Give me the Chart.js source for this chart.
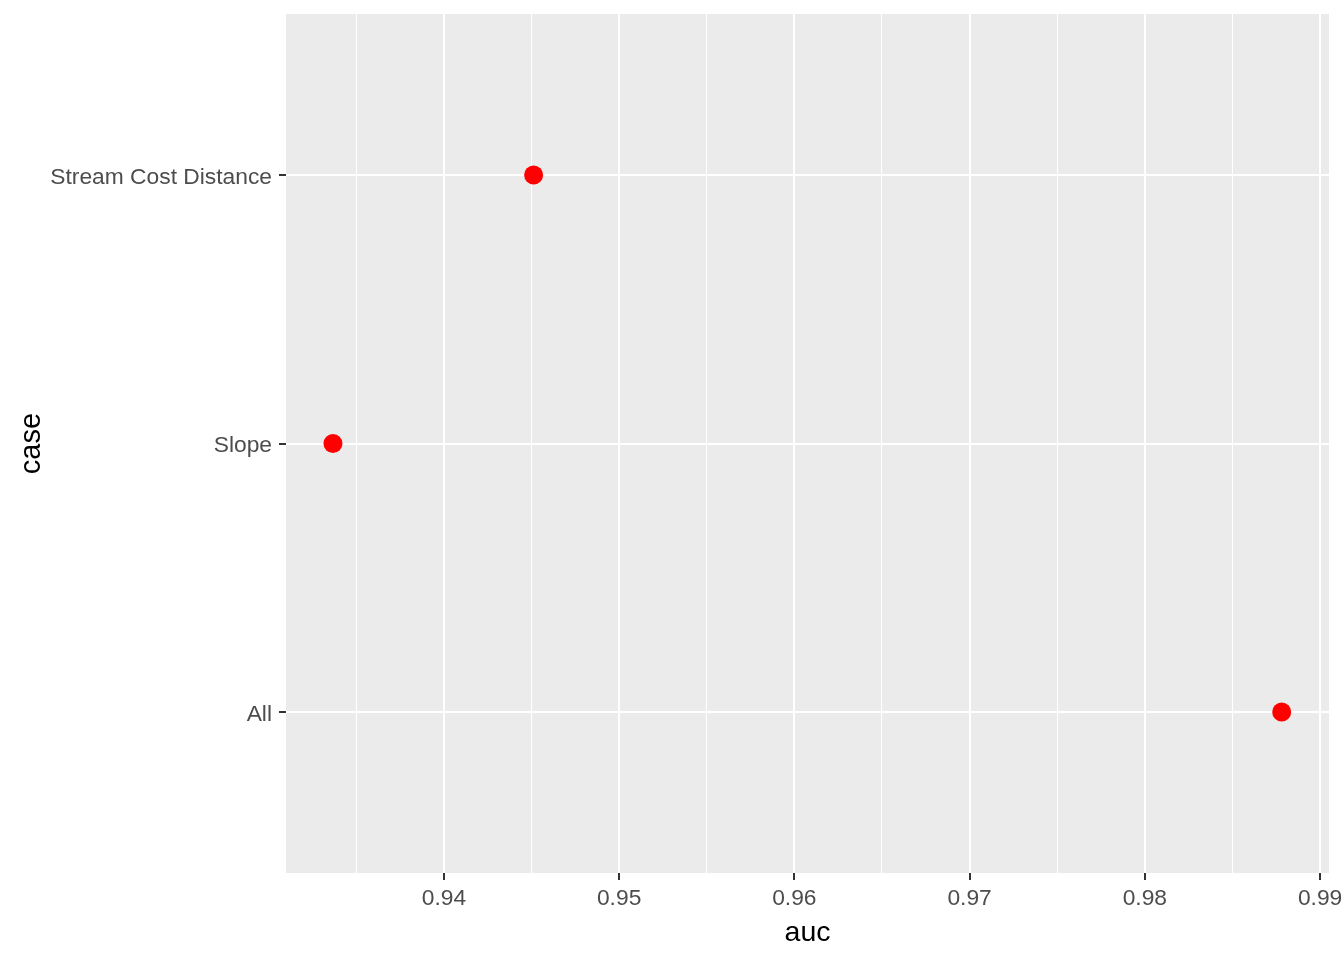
<!DOCTYPE html>
<html>
<head>
<meta charset="utf-8">
<title>auc by case</title>
<script src="https://cdn.jsdelivr.net/npm/chart.js@4.4.1/dist/chart.umd.min.js"></script>
<style>
    html, body { margin: 0; padding: 0; background: #ffffff; }
    #wrap { width: 1344px; height: 960px; }
</style>
</head>
<body>
<div id="wrap"><canvas id="chart" width="1344" height="960"></canvas></div>
<script>
// categories, bottom to top like ggplot draws them
const cases = ['All', 'Slope', 'Stream Cost Distance'];
const aucValues = [0.98781, 0.93367, 0.94512];

const xMajorTicks = [0.94, 0.95, 0.96, 0.97, 0.98, 0.99];
const xMinorTicks = [0.935, 0.945, 0.955, 0.965, 0.975, 0.985];
const xMin = 0.93099, xMax = 0.99051;

const fontFamily = '"Liberation Sans", Arial, sans-serif';

function isMajor(v) {
    return xMajorTicks.some(function (m) { return Math.abs(m - v) < 1e-6; });
}

// grey ggplot panel behind the grid
const panelBg = {
    id: 'panelBg',
    beforeDraw: function (chart) {
        const a = chart.chartArea, ctx = chart.ctx;
        ctx.save();
        ctx.fillStyle = '#EBEBEB';
        ctx.fillRect(a.left, a.top, a.right - a.left, a.bottom - a.top);
        ctx.restore();
    }
};

const points = aucValues.map(function (v, i) { return { x: v, y: i }; });

new Chart(document.getElementById('chart'), {
    type: 'scatter',
    data: {
        datasets: [{
            data: points,
            backgroundColor: '#FF0000',
            borderWidth: 0,
            pointRadius: 9.5,
            pointHoverRadius: 9.5
        }]
    },
    options: {
        responsive: false,
        animation: false,
        layout: { padding: { top: 14, right: 15, left: 0, bottom: 0 } },
        plugins: { legend: { display: false }, tooltip: { enabled: false } },
        scales: {
            x: {
                type: 'linear',
                min: xMin,
                max: xMax,
                afterBuildTicks: function (scale) {
                    scale.ticks = xMinorTicks.concat(xMajorTicks)
                        .sort(function (a, b) { return a - b; })
                        .map(function (v) { return { value: v }; });
                },
                afterFit: function (scale) {
                    scale.height = 87;
                    scale.paddingLeft = 0;
                    scale.paddingRight = 0;
                },
                border: { display: false },
                grid: {
                    color: '#FFFFFF',
                    lineWidth: function (c) { return isMajor(c.tick.value) ? 2 : 1; },
                    tickColor: function (c) { return isMajor(c.tick.value) ? '#333333' : 'rgba(0,0,0,0)'; },
                    tickWidth: 2,
                    tickLength: 7
                },
                ticks: {
                    autoSkip: false,
                    maxRotation: 0,
                    padding: 5,
                    color: '#4D4D4D',
                    font: { family: fontFamily, size: 22.8 },
                    callback: function (v) { return isMajor(v) ? v.toFixed(2) : ''; }
                },
                title: {
                    display: true,
                    text: 'auc',
                    color: '#000000',
                    font: { family: fontFamily, size: 28.5 },
                    padding: { top: 0, bottom: 10 }
                }
            },
            y: {
                type: 'linear',
                min: -0.6,
                max: cases.length - 1 + 0.6,
                afterBuildTicks: function (scale) {
                    scale.ticks = cases.map(function (c, i) { return { value: i }; });
                },
                afterFit: function (scale) {
                    scale.width = 286;
                    scale.paddingTop = 0;
                    scale.paddingBottom = 0;
                },
                border: { display: false },
                grid: {
                    color: '#FFFFFF',
                    lineWidth: 2,
                    tickColor: '#333333',
                    tickWidth: 2,
                    tickLength: 7
                },
                ticks: {
                    autoSkip: false,
                    padding: 7,
                    labelOffset: 2.5,
                    color: '#4D4D4D',
                    font: { family: fontFamily, size: 22.8 },
                    callback: function (v) { return cases[v] !== undefined ? cases[v] : ''; }
                },
                title: {
                    display: true,
                    text: 'case',
                    color: '#000000',
                    font: { family: fontFamily, size: 29 },
                    padding: { top: 15, bottom: 0 }
                }
            }
        }
    },
    plugins: [panelBg]
});
</script>
</body>
</html>
